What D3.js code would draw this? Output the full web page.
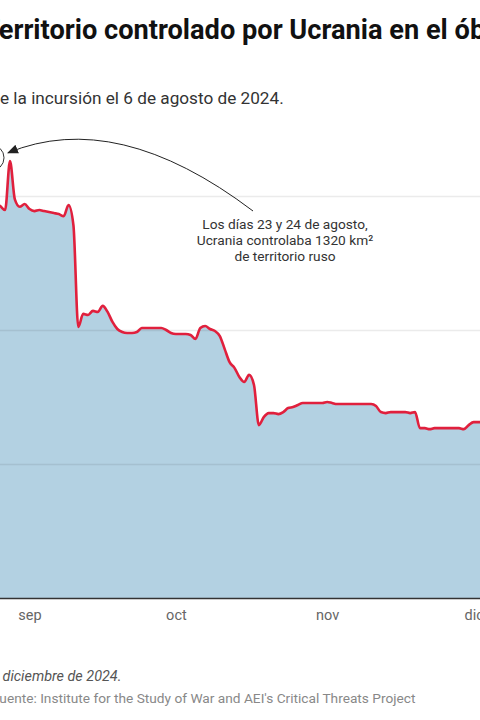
<!DOCTYPE html>
<html>
<head>
<meta charset="utf-8">
<script src="https://cdn.jsdelivr.net/npm/d3@7"></script>
<style>
  html, body { margin: 0; padding: 0; background: #fff; }
  svg { display: block; font-family: Roboto, "Noto Sans", sans-serif; }
</style>
</head>
<body>
<svg id="chart" width="480" height="720"></svg>
<script>
// ---- data ----
const startDate = "2024-08-23";
const endDate = "2024-12-04"; // exclusive
const areaKm2 = [
  1320, 1320, 1180, 1170, 1158, 1304, 1190, 1168, 1176,            // Aug 23 - Aug 31
  1161, 1155, 1158, 1155, 1152, 1149, 1146, 1140, 1173, 1113,      // Sep 1 - Sep 10
  809, 848, 845, 857, 854, 872, 854, 824, 803, 794,                // Sep 11 - Sep 20
  791, 791, 794, 806, 806, 806, 806, 806, 800, 791,                // Sep 21 - Sep 30
  788, 788, 788, 785, 773, 806, 812, 803, 797, 782,                // Oct 1 - Oct 10
  743, 704, 687, 660, 645, 666, 636, 516, 540, 552,                // Oct 11 - Oct 20
  552, 549, 555, 567, 570, 576, 582, 582, 582, 582, 582,           // Oct 21 - Oct 31
  585, 582, 579, 579, 579, 579, 579, 579, 579, 579,                // Nov 1 - Nov 10
  573, 555, 552, 555, 555, 555, 555, 552, 555, 507,                // Nov 11 - Nov 20
  507, 504, 507, 507, 507, 507, 507, 507, 504, 516,                // Nov 21 - Nov 30
  525, 525, 525                                                    // Dec 1 - Dec 3
];
const monthTicks = ["2024-09-01", "2024-10-01", "2024-11-01", "2024-12-01"];
const monthLabels = ["sep", "oct", "nov", "dic"];
const gridValues = [400, 800, 1200];
const annotationLines = ["Los días 23 y 24 de agosto,", "Ucrania controlaba 1320 km²", "de territorio ruso"];
const highlightDates = ["2024-08-23", "2024-08-24"];
const highlightValue = 1320;

const titleText = "Territorio controlado por Ucrania en el óblast de Kursk";
const titleHidden = "T";
const subtitleText = "Superficie en km² desde el inicio de la incursión el 6 de agosto de 2024.";
const subtitleHidden = "Superficie en km² desde el inicio d";
const noteText = "Datos actualizados al 9 de diciembre de 2024.";
const noteHidden = "Datos actualizados al 9 de ";
const sourceText = "Fuente: Institute for the Study of War and AEI's Critical Threats Project";
const sourceHidden = "F";

// ---- setup ----
const parse = d3.utcParse("%Y-%m-%d");
const dates = d3.utcDay.range(parse(startDate), parse(endDate));
const data = dates.map((d, i) => ({ date: d, value: areaKm2[i] }));

const svg = d3.select("#chart");

const x = d3.scaleUtc()
  .domain([parse("2024-09-01"), parse("2024-12-01")])
  .range([29.5, 473.6]);
const y = d3.scaleLinear()
  .domain([0, 1200])
  .range([598, 196]);

const xL = -120, xR = 520;

function measure(txt, attrs) {
  const t = svg.append("text").text(txt);
  Object.entries(attrs).forEach(([k, v]) => t.attr(k, v));
  const w = t.node().getComputedTextLength();
  t.remove();
  return w;
}

// ---- area ----
const area = d3.area()
  .x(d => x(d.date))
  .y0(y(0))
  .y1(d => y(d.value))
  .curve(d3.curveMonotoneX);
svg.append("path")
  .datum(data)
  .attr("d", area)
  .attr("fill", "#b3d1e2");

// ---- gridlines ----
const grid = svg.append("g")
  .attr("transform", `translate(${xL},0)`)
  .call(d3.axisLeft(y).tickValues(gridValues).tickSize(-(xR - xL)).tickFormat(""));
grid.select(".domain").remove();
grid.selectAll(".tick line")
  .attr("stroke", "#000")
  .attr("stroke-opacity", 0.08)
  .attr("stroke-width", 1.5);

// ---- line ----
const line = d3.line()
  .x(d => x(d.date))
  .y(d => y(d.value))
  .curve(d3.curveMonotoneX);
svg.append("path")
  .datum(data)
  .attr("d", line)
  .attr("fill", "none")
  .attr("stroke", "#e0203d")
  .attr("stroke-width", 2.6)
  .attr("stroke-linejoin", "round");

// ---- baseline ----
svg.append("line")
  .attr("x1", xL).attr("x2", xR)
  .attr("y1", y(0) + 0.5).attr("y2", y(0) + 0.5)
  .attr("stroke", "#333").attr("stroke-width", 1.5);

// ---- x axis labels ----
const xAxis = svg.append("g")
  .attr("transform", `translate(0,${y(0)})`)
  .call(d3.axisBottom(x)
    .tickValues(monthTicks.map(parse))
    .tickSize(0)
    .tickPadding(12)
    .tickFormat((d, i) => monthLabels[i]));
xAxis.select(".domain").remove();
xAxis.selectAll("text")
  .attr("fill", "#666")
  .style("font-size", "14.5px")
  .style("font-family", "Roboto, sans-serif");

// ---- annotation ----
const hx = d3.mean(highlightDates.map(s => x(parse(s))));
const hy = y(highlightValue) + 2;
svg.append("circle")
  .attr("cx", hx + 3).attr("cy", hy).attr("r", 13)
  .attr("fill", "none").attr("stroke", "#333").attr("stroke-width", 1);

svg.append("defs").append("marker")
  .attr("id", "arrow")
  .attr("viewBox", "0 0 10 10")
  .attr("refX", 9).attr("refY", 5)
  .attr("markerWidth", 11).attr("markerHeight", 11)
  .attr("markerUnits", "userSpaceOnUse")
  .attr("orient", "auto")
  .append("path").attr("d", "M0,0.8 L10,5 L0,9.2 Z").attr("fill", "#222");

const ax0 = 253, ay0 = 211;
const ax1 = hx + 3 + 13 + 4, ay1 = hy - 5;
svg.append("path")
  .attr("d", `M${ax0},${ay0} Q117,108 ${ax1},${ay1}`)
  .attr("fill", "none")
  .attr("stroke", "#222")
  .attr("stroke-width", 1)
  .attr("marker-end", "url(#arrow)");

const ann = svg.append("text")
  .attr("x", 285).attr("y", 229)
  .attr("text-anchor", "middle")
  .attr("fill", "#333")
  .style("font-size", "13.7px");
annotationLines.forEach((t, i) => {
  ann.append("tspan").attr("x", 285).attr("dy", i === 0 ? 0 : 16).text(t);
});

// ---- titles ----
const tAttrs = { "font-size": "27.2px", "font-weight": 700 };
const tw = measure(titleHidden, tAttrs);
svg.append("text")
  .attr("x", -tw).attr("y", 39)
  .attr("font-size", "27.2px").attr("font-weight", 700)
  .attr("fill", "#111")
  .text(titleText);

const sAttrs = { "font-size": "17.2px" };
const sw = measure(subtitleHidden, sAttrs);
svg.append("text")
  .attr("x", -sw).attr("y", 104)
  .attr("font-size", "17.2px")
  .attr("fill", "#333")
  .text(subtitleText);

const nAttrs = { "font-size": "14.4px", "font-style": "italic" };
const nw = measure(noteHidden, nAttrs);
svg.append("text")
  .attr("x", -nw - 1).attr("y", 681)
  .attr("font-size", "14.4px").attr("font-style", "italic")
  .attr("fill", "#555")
  .text(noteText);

const fAttrs = { "font-size": "13.7px" };
const fw = measure(sourceHidden, fAttrs);
svg.append("text")
  .attr("x", -fw - 0.5).attr("y", 703)
  .attr("font-size", "13.7px")
  .attr("fill", "#888")
  .text(sourceText);
</script>
</body>
</html>
